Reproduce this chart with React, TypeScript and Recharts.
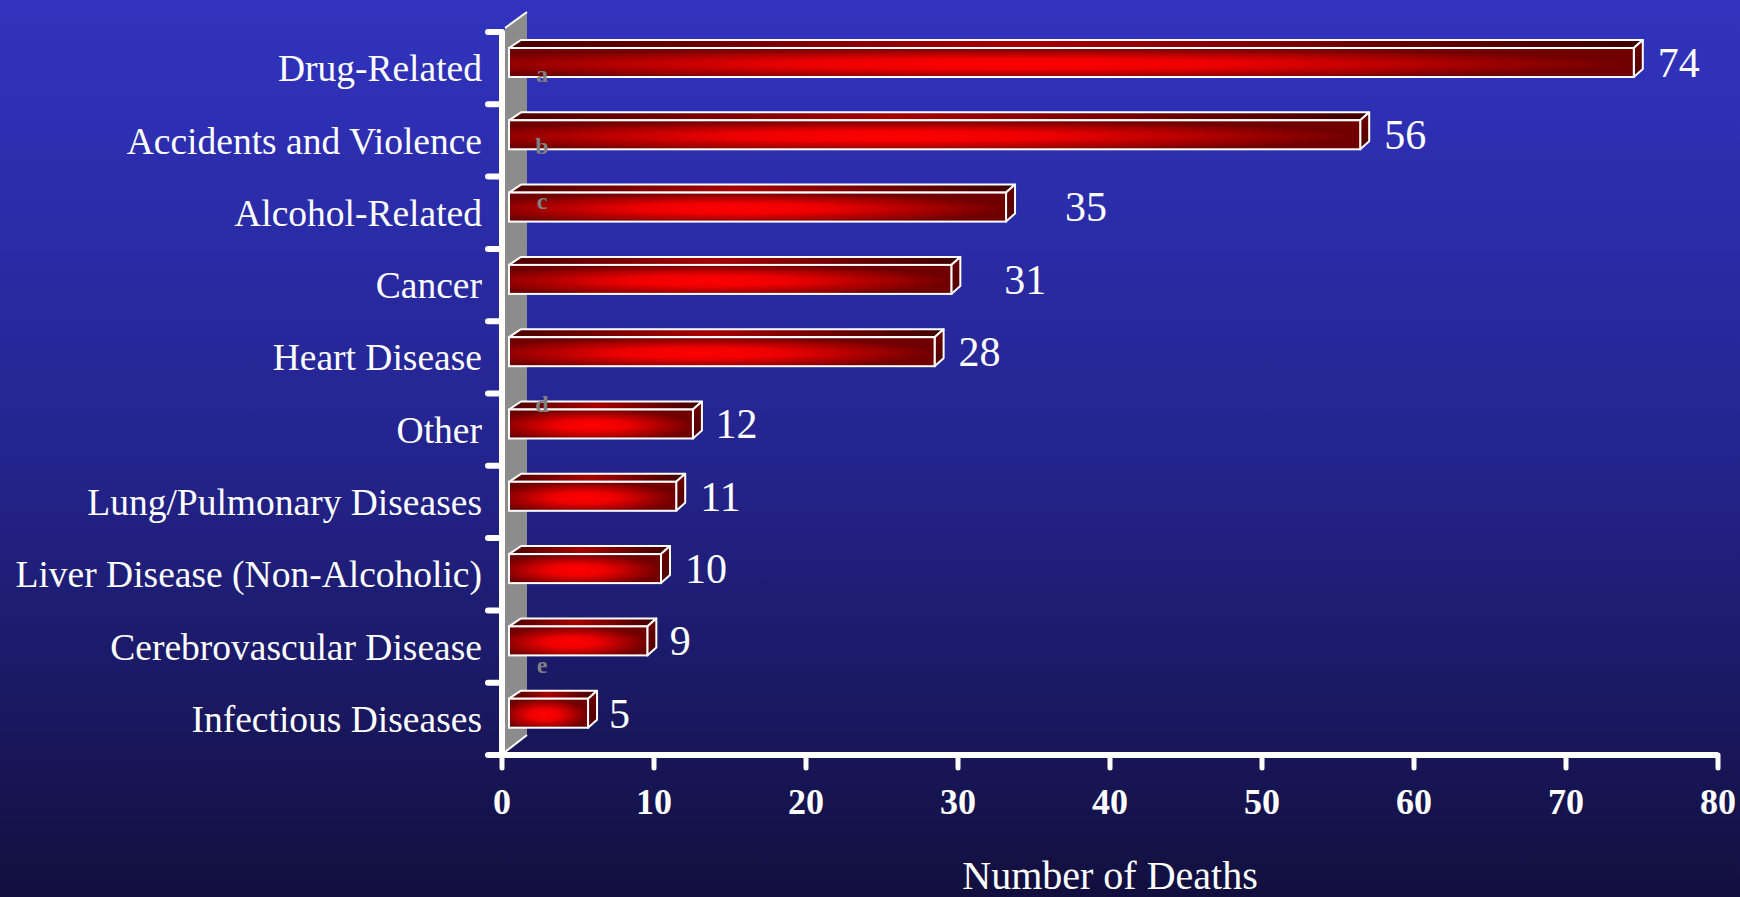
import React from "react";
import { ComposedChart, Bar, Line, XAxis, YAxis, LabelList } from "recharts";

// causes of death, top to bottom
const categories = [
  "Drug-Related",
  "Accidents and Violence",
  "Alcohol-Related",
  "Cancer",
  "Heart Disease",
  "Other",
  "Lung/Pulmonary Diseases",
  "Liver Disease (Non-Alcoholic)",
  "Cerebrovascular Disease",
  "Infectious Diseases",
];
// bar lengths as drawn in the picture
const barValues = [74, 56, 32.7, 29.1, 28, 12.1, 11, 10, 9.1, 5.2];
// numbers printed next to the bars
const labelValues = [74, 56, 35, 31, 28, 12, 11, 10, 9, 5];
// footnote marks
const notes = ["a", "b", "c", "", "", "d", "", "", "", "e"];
const xTicks = [0, 10, 20, 30, 40, 50, 60, 70, 80];

const W = 1740;
const H = 897;
const X_AXIS_H = 142;
const M = { top: 32, right: 22, bottom: 0, left: 0 };
const AXIS_X = 502;
const PLOT_BOTTOM = H - X_AXIS_H;
const band = (PLOT_BOTTOM - M.top) / categories.length;
const FONT = '"Liberation Serif", "Times New Roman", serif';

const data = categories.map((name, i) => ({
  name,
  deaths: barValues[i],
  label: labelValues[i],
  note: notes[i],
}));

function Bar3D(props: any) {
  const { x, y, width, height } = props;
  if (width == null || width <= 0) return null;
  const fx = x + 7;
  const fy = y - 6;
  const dl = 12;
  const dr = 9;
  const dz = 8;
  return (
    <g>
      <polygon
        points={`${fx},${fy} ${fx + dl},${fy - dz} ${fx + width + dr},${fy - dz} ${fx + width},${fy}`}
        fill="url(#topFace)"
        stroke="#fff"
        strokeWidth={2}
        strokeLinejoin="round"
      />
      <polygon
        points={`${fx + width},${fy} ${fx + width + dr},${fy - dz} ${fx + width + dr},${fy + height - dz} ${fx + width},${fy + height}`}
        fill="url(#sideFace)"
        stroke="#fff"
        strokeWidth={2}
        strokeLinejoin="round"
      />
      <rect x={fx} y={fy} width={width} height={height} fill="url(#frontFace)" stroke="#fff" strokeWidth={2} />
    </g>
  );
}

function CategoryTick(props: any) {
  const { y, payload, index } = props;
  const last = index === categories.length - 1;
  return (
    <g>
      <text x={AXIS_X - 20} y={y} dy="0.35em" textAnchor="end" fill="#fff" fontSize={37.5} fontFamily={FONT}>
        {payload.value}
      </text>
      <line x1={AXIS_X - 14} x2={AXIS_X} y1={y - band / 2} y2={y - band / 2} stroke="#fff" strokeWidth={6} strokeLinecap="round" />
      {last && (
        <line x1={AXIS_X - 14} x2={AXIS_X} y1={y + band / 2} y2={y + band / 2} stroke="#fff" strokeWidth={6} strokeLinecap="round" />
      )}
    </g>
  );
}

function ValueTick(props: any) {
  const { x, payload } = props;
  return (
    <text x={x} y={PLOT_BOTTOM + 46} dy="0.35em" textAnchor="middle" fill="#fff" fontSize={36} fontWeight="bold" fontFamily={FONT}>
      {payload.value}
    </text>
  );
}

function ValueLabel(props: any) {
  const { x, y, value } = props;
  if (x == null) return null;
  return (
    <text x={x + 31} y={y - 6} dy="0.35em" textAnchor="start" fill="#fff" fontSize={42} fontFamily={FONT}>
      {value}
    </text>
  );
}

const noteDy: Record<string, number> = { a: 13, b: 13, c: -4, d: -18, e: -46 };

function NoteMark(props: any) {
  const vb = props.viewBox || props;
  const { value } = props;
  if (!value) return null;
  const cy = vb.y + vb.height / 2;
  return (
    <text x={AXIS_X + 40} y={cy + (noteDy[value] ?? 0)} textAnchor="middle" fill="#808080" fontSize={24} fontWeight="bold" fontFamily={FONT}>
      {value}
    </text>
  );
}

export default function App() {
  return (
    <div
      style={{
        position: "absolute",
        left: 0,
        top: 0,
        width: W,
        height: H,
        overflow: "hidden",
        background: "linear-gradient(to bottom, #3133bf 0%, #24248f 50%, #120f3e 100%)",
      }}
    >
      <svg width={W} height={H} style={{ position: "absolute", left: 0, top: 0 }}>
        <defs>
          <radialGradient id="frontFace" cx="0.45" cy="0.55" r="0.55">
            <stop offset="0%" stopColor="#ff0000" />
            <stop offset="35%" stopColor="#ee0000" />
            <stop offset="75%" stopColor="#a00000" />
            <stop offset="100%" stopColor="#700000" />
          </radialGradient>
          <linearGradient id="topFace" x1="0" y1="0" x2="1" y2="0">
            <stop offset="0%" stopColor="#4a0000" />
            <stop offset="45%" stopColor="#a80000" />
            <stop offset="100%" stopColor="#3e0000" />
          </linearGradient>
          <linearGradient id="sideFace" x1="0" y1="0" x2="0" y2="1">
            <stop offset="0%" stopColor="#6e0000" />
            <stop offset="100%" stopColor="#500000" />
          </linearGradient>
        </defs>
        {/* back wall */}
        <polygon
          points={`${AXIS_X + 3},${M.top - 4} ${AXIS_X + 25},${M.top - 20} ${AXIS_X + 25},${PLOT_BOTTOM - 20} ${AXIS_X + 3},${PLOT_BOTTOM - 3}`}
          fill="#8c8c8c"
        />
        <line x1={AXIS_X + 3} y1={M.top - 4} x2={AXIS_X + 25} y2={M.top - 20} stroke="#fff" strokeWidth={2} />
        <line x1={AXIS_X + 3} y1={PLOT_BOTTOM - 3} x2={AXIS_X + 25} y2={PLOT_BOTTOM - 20} stroke="#fff" strokeWidth={2} />
      </svg>
      <div style={{ position: "absolute", left: 0, top: 0 }}>
        <ComposedChart width={W} height={H} data={data} layout="vertical" margin={M}>
          <XAxis
            type="number"
            domain={[0, 80]}
            ticks={xTicks}
            interval={0}
            height={X_AXIS_H}
            axisLine={{ stroke: "#fff", strokeWidth: 6 }}
            tickLine={{ stroke: "#fff", strokeWidth: 5, strokeLinecap: "round" }}
            tickSize={13}
            tick={ValueTick}
            label={{
              value: "Number of Deaths",
              position: "insideBottom",
              offset: 8,
              fill: "#fff",
              fontSize: 40,
              fontFamily: FONT,
            }}
          />
          <YAxis
            type="category"
            dataKey="name"
            width={AXIS_X}
            interval={0}
            axisLine={{ stroke: "#fff", strokeWidth: 6 }}
            tickLine={false}
            tickSize={0}
            tickMargin={0}
            tick={CategoryTick}
          />
          <Bar dataKey="deaths" barSize={29} shape={Bar3D} isAnimationActive={false}>
            <LabelList dataKey="note" content={NoteMark} />
          </Bar>
          <Line
            dataKey="label"
            stroke="none"
            dot={false}
            activeDot={false}
            legendType="none"
            isAnimationActive={false}
          >
            <LabelList dataKey="label" content={ValueLabel} />
          </Line>
        </ComposedChart>
      </div>
    </div>
  );
}
